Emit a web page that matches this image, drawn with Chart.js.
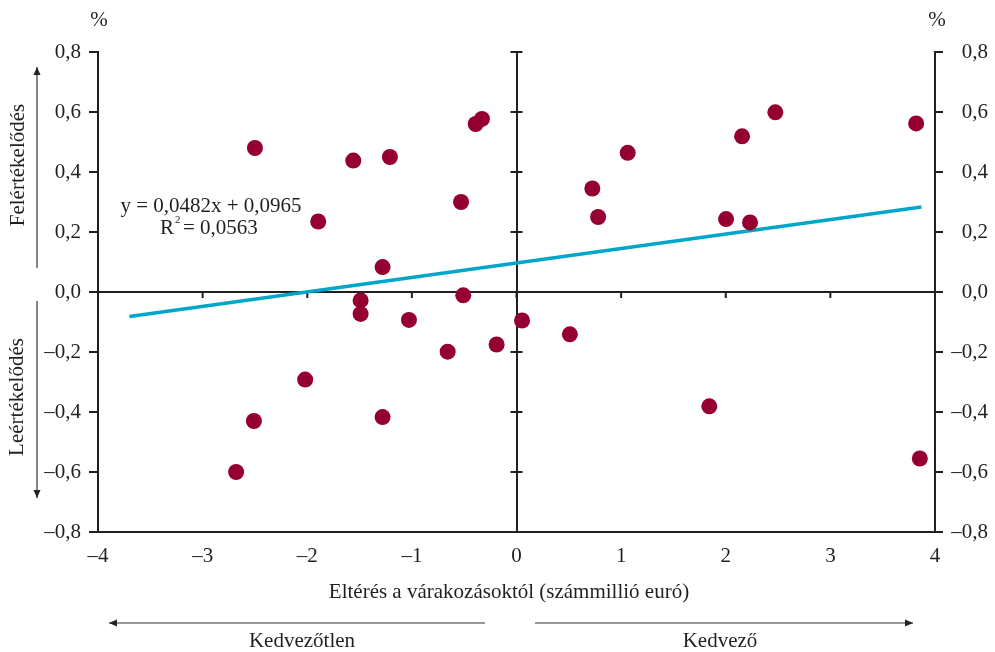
<!DOCTYPE html>
<html lang="hu">
<head>
<meta charset="utf-8">
<title>Eltérés a várakozásoktól</title>
<script src="https://cdn.jsdelivr.net/npm/chart.js@4/dist/chart.umd.min.js"></script>
<style>
  html, body { margin: 0; padding: 0; background: #fff; }
  canvas { display: block; }
</style>
</head>
<body>
<canvas id="grafico" width="995" height="652"></canvas>
<script>
// Adatok: eltérés a várakozásoktól (x) és árfolyamváltozás (y, %)
const eltéresX = [
  -2.68, -2.51, -2.02, -2.50, -1.895, -1.56, -1.21, -0.39, -0.33, -0.53,
  -1.28, 0.725, 0.78, 1.063, 2.003, 2.156, 2.474, 2.232, 3.82, 1.843,
  3.855, -1.49, -1.49, -1.028, -0.509, -0.658, -0.19, 0.053, 0.51, -1.28
];
const valtozasY = [
  -0.60, -0.43, -0.292, 0.48, 0.235, 0.438, 0.45, 0.56, 0.577, 0.30,
  0.083, 0.345, 0.25, 0.464, 0.243, 0.519, 0.599, 0.232, 0.562, -0.381,
  -0.555, -0.028, -0.073, -0.093, -0.011, -0.199, -0.175, -0.095, -0.141, -0.417
];

// Lineáris trend: y = 0,0482x + 0,0965
const trendMeredekseg = 0.0482;
const trendTengely = 0.0965;
const trendX = [-3.7, 3.87];

const xTicks = [-4, -3, -2, -1, 0, 1, 2, 3, 4];
const yTicks = [-0.8, -0.6, -0.4, -0.2, 0, 0.2, 0.4, 0.6, 0.8];

const FONT = '"Liberation Serif", "Times New Roman", serif';
const MERET = 21;
const SZOVEG = '#231f20';
const PONT = '#950030';
const VONAL = '#00a6c8';

const pontok = eltéresX.map((x, i) => ({ x: x, y: valtozasY[i] }));
const trend = trendX.map(x => ({ x: x, y: trendMeredekseg * x + trendTengely }));

const formaz = (v, tized) => {
  if (Math.abs(v) < 1e-9) v = 0;
  return v.toFixed(tized).replace('.', ',').replace('-', '–');
};

// Nyíl rajzolása
function nyil(ctx, x1, y1, x2, y2) {
  const ang = Math.atan2(y2 - y1, x2 - x1);
  ctx.beginPath();
  ctx.moveTo(x1, y1);
  ctx.lineTo(x2, y2);
  ctx.stroke();
  ctx.beginPath();
  ctx.moveTo(x2, y2);
  ctx.lineTo(x2 - 8 * Math.cos(ang) + 3.5 * Math.sin(ang), y2 - 8 * Math.sin(ang) - 3.5 * Math.cos(ang));
  ctx.lineTo(x2 - 8 * Math.cos(ang) - 3.5 * Math.sin(ang), y2 - 8 * Math.sin(ang) + 3.5 * Math.cos(ang));
  ctx.closePath();
  ctx.fill();
}

// Kis jelölések a nulla-tengelyeken
const nullaTengelyek = {
  id: 'nullaTengelyek',
  beforeDatasetsDraw(chart) {
    const { ctx, scales: { x, y } } = chart;
    const x0 = x.getPixelForValue(0);
    const y0 = y.getPixelForValue(0);
    ctx.save();
    ctx.strokeStyle = SZOVEG;
    ctx.lineWidth = 2;
    yTicks.forEach(v => {
      const py = y.getPixelForValue(v);
      ctx.beginPath();
      ctx.moveTo(x0 - 6, py);
      ctx.lineTo(x0 + 6, py);
      ctx.stroke();
    });
    xTicks.forEach(v => {
      const px = x.getPixelForValue(v);
      ctx.beginPath();
      ctx.moveTo(px, y0);
      ctx.lineTo(px, y0 + 6);
      ctx.stroke();
    });
    ctx.restore();
  }
};

// Feliratok, nyilak
const feliratok = {
  id: 'feliratok',
  afterDraw(chart) {
    const ctx = chart.ctx;
    const f = MERET + 'px ' + FONT;
    ctx.save();
    ctx.fillStyle = SZOVEG;
    ctx.font = f;
    ctx.textAlign = 'center';
    ctx.textBaseline = 'middle';

    ctx.fillText('%', 99, 20);
    ctx.fillText('%', 937, 20);

    ctx.fillText('y = 0,0482x + 0,0965', 211, 206);
    ctx.textAlign = 'left';
    ctx.fillText('R', 160, 228);
    ctx.font = '11px ' + FONT;
    ctx.fillText('2', 175, 220);
    ctx.font = f;
    ctx.fillText('= 0,0563', 183, 228);
    ctx.textAlign = 'center';

    ctx.fillText('Eltérés a várakozásoktól (számmillió euró)', 509, 592);
    ctx.fillText('Kedvezőtlen', 302, 641);
    ctx.fillText('Kedvező', 720, 641);

    ctx.save();
    ctx.translate(18, 165);
    ctx.rotate(-Math.PI / 2);
    ctx.fillText('Felértékelődés', 0, 0);
    ctx.restore();
    ctx.save();
    ctx.translate(17, 397);
    ctx.rotate(-Math.PI / 2);
    ctx.fillText('Leértékelődés', 0, 0);
    ctx.restore();

    ctx.strokeStyle = '#333';
    ctx.fillStyle = '#222';
    ctx.lineWidth = 1.2;
    nyil(ctx, 37, 268, 37, 67);
    nyil(ctx, 37, 301, 37, 498);
    nyil(ctx, 485, 623, 109, 623);
    nyil(ctx, 535, 623, 913, 623);
    ctx.restore();
  }
};

new Chart(document.getElementById('grafico'), {
  data: {
    datasets: [
      {
        type: 'line',
        data: trend,
        borderColor: VONAL,
        borderWidth: 3.5,
        pointRadius: 0,
        fill: false,
        order: 2
      },
      {
        type: 'scatter',
        data: pontok,
        backgroundColor: PONT,
        borderWidth: 0,
        pointRadius: 8,
        order: 1
      }
    ]
  },
  options: {
    responsive: false,
    animation: false,
    layout: { padding: { top: 52, right: 7, left: 0, bottom: 0 } },
    plugins: { legend: { display: false }, tooltip: { enabled: false } },
    scales: {
      x: {
        type: 'linear',
        min: -4, max: 4,
        afterBuildTicks: s => { s.ticks = xTicks.map(v => ({ value: v })); },
        afterFit: s => { s.height = 120; },
        border: { display: true, color: SZOVEG, width: 2 },
        grid: {
          drawTicks: false,
          color: c => (c.tick && Math.abs(c.tick.value) < 1e-9) ? SZOVEG : 'transparent',
          lineWidth: 2
        },
        ticks: {
          padding: 12,
          color: SZOVEG,
          font: { family: FONT, size: MERET },
          callback: v => formaz(v, 0)
        }
      },
      y: {
        type: 'linear',
        position: 'left',
        min: -0.8, max: 0.8,
        afterBuildTicks: s => { s.ticks = yTicks.map(v => ({ value: v })); },
        afterFit: s => { s.width = 98; },
        border: { display: true, color: SZOVEG, width: 2 },
        grid: {
          tickLength: 9,
          tickColor: SZOVEG,
          color: c => (c.tick && Math.abs(c.tick.value) < 1e-9) ? SZOVEG : 'transparent',
          lineWidth: 2
        },
        ticks: {
          padding: 8,
          color: SZOVEG,
          font: { family: FONT, size: MERET },
          callback: v => formaz(v, 1)
        }
      },
      y2: {
        type: 'linear',
        position: 'right',
        min: -0.8, max: 0.8,
        afterBuildTicks: s => { s.ticks = yTicks.map(v => ({ value: v })); },
        afterFit: s => { s.width = 53; },
        border: { display: true, color: SZOVEG, width: 2 },
        grid: {
          drawOnChartArea: false,
          tickLength: 8,
          color: SZOVEG,
          lineWidth: 2
        },
        ticks: {
          crossAlign: 'far',
          color: SZOVEG,
          font: { family: FONT, size: MERET },
          callback: v => formaz(v, 1)
        }
      }
    }
  },
  plugins: [nullaTengelyek, feliratok]
});
</script>
</body>
</html>
